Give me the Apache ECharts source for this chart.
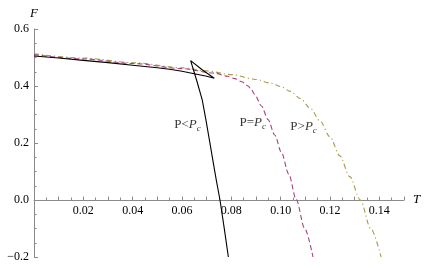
<!DOCTYPE html>
<html>
<head>
<meta charset="utf-8">
<script src="https://cdn.jsdelivr.net/npm/echarts@6/dist/echarts.min.js"></script>
<style>html,body{margin:0;padding:0;background:#fff;}#c{width:429px;height:268px;}</style>
</head>
<body>
<div id="c"></div>
<script>
// P < Pc (black, with swallowtail)
const lowT = [0, 0.01, 0.02, 0.03, 0.04, 0.05, 0.055, 0.06, 0.065, 0.07, 0.0731, 0.0683, 0.0635, 0.0659, 0.0682, 0.0697, 0.0711, 0.0725, 0.0739, 0.0754, 0.0771, 0.0788];
const lowF = [0.505, 0.498, 0.490, 0.482, 0.473, 0.464, 0.459, 0.452, 0.443, 0.434, 0.427, 0.456, 0.489, 0.421, 0.351, 0.281, 0.211, 0.140, 0.070, 0.0, -0.098, -0.2];
// P = Pc (magenta dashed)
const critT = [0, 0.02, 0.04, 0.06, 0.0733, 0.0785, 0.0814, 0.0842, 0.0868, 0.0882, 0.0895, 0.0922, 0.0949, 0.0976, 0.1003, 0.1033, 0.1063, 0.1097, 0.1131];
const critF = [0.510, 0.495, 0.479, 0.461, 0.445, 0.434, 0.426, 0.415, 0.400, 0.386, 0.370, 0.330, 0.282, 0.228, 0.167, 0.090, 0.002, -0.099, -0.2];
// P > Pc (olive dash-dot)
const highT = [0, 0.02, 0.04, 0.06, 0.07, 0.08, 0.09, 0.096, 0.1, 0.104, 0.108, 0.112, 0.116, 0.12, 0.124, 0.128, 0.1323, 0.1365, 0.1407];
const highF = [0.513, 0.498, 0.482, 0.464, 0.453, 0.440, 0.423, 0.410, 0.398, 0.381, 0.356, 0.322, 0.277, 0.221, 0.155, 0.082, 0.0, -0.1, -0.2];
// curve labels
const labelRich = ['{n|P<}{i|P}{s|c}', '{n|P=}{i|P}{s|c}', '{n|P>}{i|P}{s|c}'];
const xTicks = [0.02, 0.04, 0.06, 0.08, 0.10, 0.12, 0.14];
const yTicks = [-0.2, 0.0, 0.2, 0.4, 0.6];

const zip = (a, b) => a.map((v, i) => [v, b[i]]);
const serif = 'Liberation Serif';
const axisColor = '#8a8a8a';

const W = 429, H = 268;
const gridTop = 29, gridBottom = 11, gridLeft = 34, gridRight = 25;
const yMin = -0.2, yMax = 0.6;
const plotH = H - gridTop - gridBottom;
const zeroOffset = -plotH * (0 - yMin) / (yMax - yMin);

const chart = echarts.init(document.getElementById('c'), null, {renderer: 'canvas'});
const rich = {
  n: {fontFamily: serif, fontSize: 13, color: '#000'},
  i: {fontFamily: serif, fontSize: 13, fontStyle: 'italic', color: '#000'},
  s: {fontFamily: serif, fontSize: 9, fontStyle: 'italic', color: '#000', padding: [7, 0, 0, 0]}
};
const labelCoords = [[0.0622, 0.263], [0.0887, 0.270], [0.1093, 0.257]];

chart.setOption({
  animation: false,
  grid: {left: gridLeft, right: gridRight, top: gridTop, bottom: gridBottom, containLabel: false, outerBoundsMode: 'none'},
  xAxis: {
    type: 'value', min: 0, max: 0.15, interval: 0.01,
    position: 'bottom', offset: zeroOffset,
    name: 'T', nameLocation: 'end', nameGap: 9,
    nameTextStyle: {fontFamily: serif, fontSize: 13, fontStyle: 'italic', color: '#000', verticalAlign: 'middle'},
    axisLine: {onZero: false, lineStyle: {color: axisColor, width: 1}},
    axisTick: {show: true, inside: true, length: 3.5, lineStyle: {color: axisColor}},
    minorTick: {show: true, splitNumber: 2, length: 2.5, lineStyle: {color: axisColor}},
    splitLine: {show: false},
    axisLabel: {
      interval: 0, margin: 5, fontFamily: serif, fontSize: 12, color: '#000',
      formatter: v => {
        const m = xTicks.find(t => Math.abs(t - v) < 1e-6);
        return m !== undefined ? m.toFixed(2) : '';
      }
    }
  },
  yAxis: {
    type: 'value', min: yMin, max: yMax, interval: 0.2,
    name: 'F', nameLocation: 'end', nameGap: 9,
    nameTextStyle: {fontFamily: serif, fontSize: 13, fontStyle: 'italic', color: '#000', align: 'center'},
    axisLine: {show: true, onZero: false, lineStyle: {color: axisColor, width: 1}},
    axisTick: {show: true, inside: true, length: 4, lineStyle: {color: axisColor}},
    minorTick: {show: true, splitNumber: 4, length: 2.5, lineStyle: {color: axisColor}},
    splitLine: {show: false},
    axisLabel: {
      margin: 5, fontFamily: serif, fontSize: 12, color: '#000',
      formatter: v => {
        const m = yTicks.find(t => Math.abs(t - v) < 1e-6);
        return m === undefined ? '' : m.toFixed(1).replace('-', '\u2212');
      }
    }
  },
  series: [
    {type: 'line', data: zip(highT, highF), showSymbol: false, smooth: 0.3, smoothMonotone: 'x',
     lineStyle: {color: '#a89a45', width: 1.1, type: [5, 3, 1.2, 3]}, z: 2},
    {type: 'line', data: zip(critT, critF), showSymbol: false, smooth: 0.3, smoothMonotone: 'x',
     lineStyle: {color: '#a8427e', width: 1.1, type: [5, 3]}, z: 3},
    {type: 'line', data: zip(lowT, lowF), showSymbol: false, smooth: false,
     lineStyle: {color: '#000', width: 1.1}, z: 4},
    {type: 'scatter', symbolSize: 0, silent: true,
     data: labelCoords.map((c, i) => ({value: c, label: {formatter: labelRich[i]}})),
     label: {show: true, position: 'inside', rich: rich}, z: 5}
  ]
});
</script>
</body>
</html>
